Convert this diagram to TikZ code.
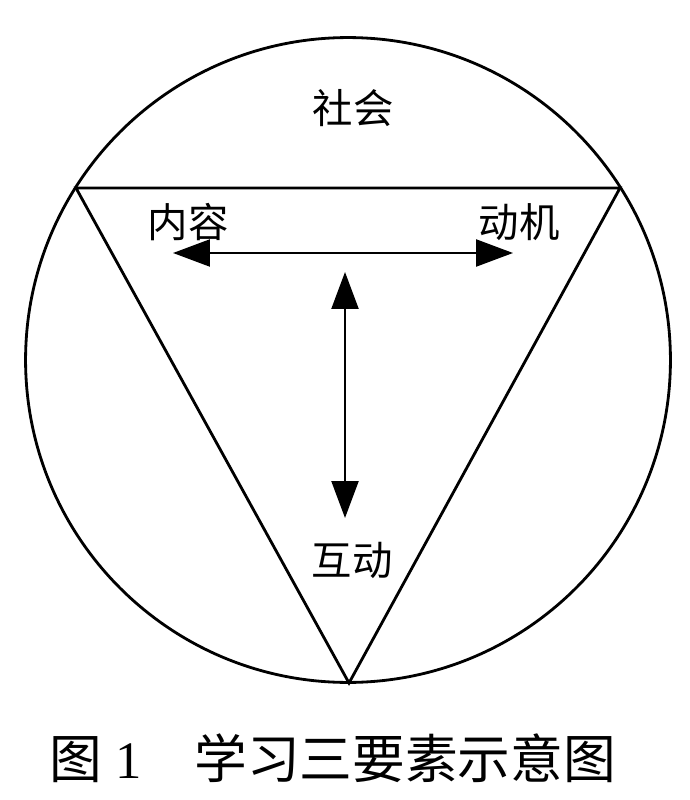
\documentclass[tikz,border=0pt]{standalone}
\usepackage{fontspec}
\setmainfont{Liberation Serif}
\newfontfamily\cjk{Noto Sans CJK SC}
\usetikzlibrary{arrows.meta, positioning}

\begin{document}
\begin{tikzpicture}[
    x=0.02cm, y=-0.02cm,
    outline/.style={line width=1.6pt, black},
    label/.style={font=\cjk\fontsize{23}{26}\selectfont, inner sep=0pt},
    caption/.style={font=\fontsize{30}{34}\selectfont, inner sep=0pt},
    arr/.style={{Triangle[length=0.74cm,width=0.54cm]}-{Triangle[length=0.74cm,width=0.54cm]},
                line width=1.3pt}
  ]
    \useasboundingbox (0,0) rectangle (689,800);

    % circle and triangle
    \coordinate (centre) at (348,360);
    \coordinate (topleft) at (76,188);
    \coordinate (topright) at (620,188);
    \coordinate (bottom) at (349,683);
    \draw[outline] (centre) circle[radius=6.45cm];
    \draw[outline, line join=miter] (topleft) -- (topright) -- (bottom) -- cycle;

    % labels
    \node[label] (society) at (353,108) {社会};
    \node[label] (content) at (188,222) {内容};
    \node[label] (motive)  at (519,222) {动机};
    \node[label] (interact) at (352,560) {互动};

    % arrows
    \coordinate (hleft)  at (173,253);
    \coordinate (hright) at (513,253);
    \coordinate (vtop)   at (345,272);
    \coordinate (vbot)   at (345,518);
    \draw[arr] (hleft) -- (hright);
    \draw[arr] (vtop) -- (vbot);

    \node[caption, anchor=west] (title) at (49,758) {{\cjk 图} 1\quad{\cjk 学习三要素示意图}};
  \end{tikzpicture}
\end{document}
